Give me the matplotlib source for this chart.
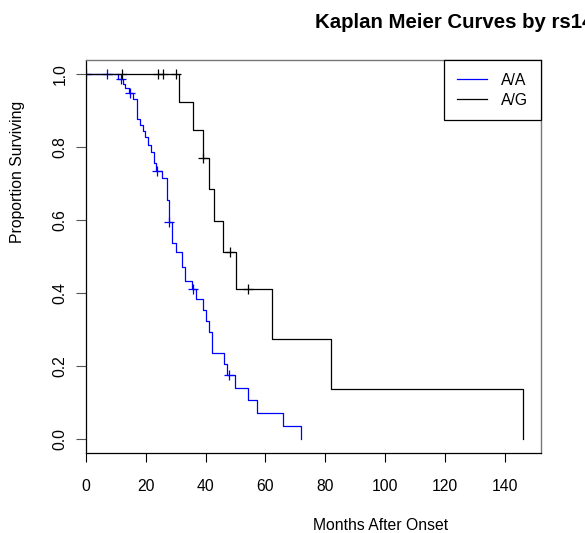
import numpy as np
import matplotlib
matplotlib.use("Agg")
import matplotlib.pyplot as plt

plt.rcParams['font.family'] = ['Liberation Sans', 'DejaVu Sans']

# Kaplan-Meier step estimates per genotype: event times and survival after each event
aa_times = [10.7, 12.4, 13.1, 14.6, 15.9, 17.2, 18.1, 19.0, 19.8, 20.7, 21.9,
            22.8, 23.6, 25.6, 27.2, 27.8, 28.9, 30.0, 32.0, 33.0, 35.6, 36.8,
            39.1, 40.2, 41.3, 42.3, 46.1, 47.1, 49.8, 54.2, 57.3, 66.0, 71.9]
aa_surv = [0.986, 0.973, 0.960, 0.947, 0.931, 0.876, 0.860, 0.844, 0.827, 0.805,
           0.787, 0.755, 0.733, 0.716, 0.655, 0.595, 0.537, 0.513, 0.472, 0.434,
           0.412, 0.383, 0.353, 0.324, 0.294, 0.235, 0.206, 0.176, 0.141, 0.106,
           0.071, 0.035, 0.0]
aa_censored = [0.0, 7.0, 11.8, 14.8, 23.9, 27.9, 35.9, 47.9]

ag_times = [31.2, 35.9, 39.0, 41.3, 42.8, 45.9, 50.1, 62.1, 82.0, 145.9]
ag_surv = [0.923, 0.846, 0.769, 0.684, 0.598, 0.513, 0.410, 0.273, 0.137, 0.0]
ag_censored = [12.2, 24.0, 25.9, 30.2, 39.3, 48.2, 54.1]

groups = ["A/A", "A/G"]
colors = ["#0000FF", "#000000"]

x_ticks = [0, 20, 40, 60, 80, 100, 120, 140]
y_ticks = [0.0, 0.2, 0.4, 0.6, 0.8, 1.0]

W, H = 585, 533
fig = plt.figure(figsize=(W / 100, H / 100), dpi=100)
ax = fig.add_axes([85.7 / W, 1 - 453 / H, (541 - 85.7) / W, (453 - 60) / H])


def surv_at(times, surv, t):
    idx = np.searchsorted(times, t, side="right")
    levels = np.concatenate([[1.0], surv])
    return levels[idx]


series = [(aa_times, aa_surv, aa_censored), (ag_times, ag_surv, ag_censored)]
for (times, surv, cens), name, col in zip(series, groups, colors):
    times = np.asarray(times)
    surv = np.asarray(surv)
    xs = np.concatenate([[0.0], times])
    ys = np.concatenate([[1.0], surv])
    ax.step(xs, ys, where="post", color=col, lw=0.9, label=name)
    cy = [surv_at(times, surv, c) for c in cens]
    ax.plot(cens, cy, linestyle="none", marker="+", color=col,
            markersize=7.5, markeredgewidth=0.9)

ax.set_xlim(0, 152.0)
ax.set_ylim(-0.038, 1.038)
ax.set_xticks(x_ticks)
ax.set_xticklabels([str(v) for v in x_ticks])
ax.set_yticks(y_ticks)
ax.set_yticklabels([f"{v:.1f}" for v in y_ticks])

fs = 11.3
ax.tick_params(axis="x", length=6.5, width=0.8, pad=12, labelsize=fs, color="black")
ax.tick_params(axis="y", length=7, width=0.8, pad=6, labelsize=fs, color="#555555",
               labelrotation=90)
for lab in ax.get_yticklabels():
    lab.set_va("center")

for side in ["left", "bottom"]:
    ax.spines[side].set_color("black")
    ax.spines[side].set_linewidth(0.9)
for side in ["top", "right"]:
    ax.spines[side].set_color("#777777")
    ax.spines[side].set_linewidth(1.0)

leg = ax.legend(loc="upper right", bbox_to_anchor=(1.0, 1.0), borderaxespad=0,
                fancybox=False, edgecolor="black", framealpha=1, fontsize=fs,
                handlelength=1.9, handletextpad=0.9, labelspacing=0.3,
                borderpad=0.82)
leg.get_frame().set_linewidth(0.9)

fig.text(315 / W, 1 - 28.3 / H, "Kaplan Meier Curves by rs14", fontsize=14.65,
         fontweight="bold", ha="left", va="baseline")
fig.text(381 / W, 1 - 530.5 / H, "Months After Onset", fontsize=fs,
         ha="center", va="baseline")
fig.text(18 / W, 1 - 172 / H, "Proportion Surviving", fontsize=fs,
         ha="center", va="center", rotation=90)

fig.savefig("out.png", dpi=100)
